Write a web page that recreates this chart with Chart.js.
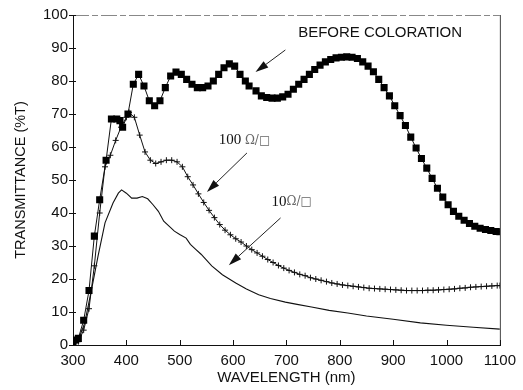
<!DOCTYPE html>
<html>
<head>
<meta charset="utf-8">
<script src="https://cdn.jsdelivr.net/npm/chart.js@4.4.1/dist/chart.umd.min.js"></script>
<style>
  html, body { margin: 0; padding: 0; background: #fff; }
  #wrap { width: 523px; height: 390px; position: relative; }
</style>
</head>
<body>
<div id="wrap"><canvas id="chart"></canvas></div>
<script>
// Transmittance spectra

// before coloration (filled squares); null = break in the trace under the arrow
const beforeWl = [300, 305, 310, 320, 330, 340, 350, 362, 372, 382, 388, 393, 403, 413, 423, 433, 443, 453, 463, 473,
  483, 493, 503, 513, 523, 533, 543, 553, 563, 573, 583, 593, 603, 613, 623, 630, 637, 643, 653, 663,
  673, 683, 693, 703, 713, 723, 733, 743, 753, 763, 773, 783, 793, 803, 813, 823, 833, 843, 853, 863,
  873, 883, 893, 903, 913, 923, 933, 943, 953, 963, 973, 983, 993, 1003, 1013, 1023, 1033, 1043, 1053, 1063,
  1073, 1083, 1093, 1100];
const beforeT = [0.3, 1.5, 2, 7.5, 16.5, 33, 44, 56, 68.5, 68.5, 68, 66, 70, 79, 82, 78.5, 74, 72.5, 74, 78,
  81.5, 82.7, 82, 80.5, 79, 78, 78, 78.5, 80, 82, 84, 85.2, 84.5, 82, 80, 78.5, null, 77, 75.5, 75,
  74.8, 74.8, 75.2, 76, 77.5, 79, 80.5, 82, 83.5, 84.8, 85.8, 86.5, 87, 87.2, 87.3, 87.2, 86.8, 85.8, 84.5, 82.8,
  80.5, 78, 75.5, 72.5, 69.5, 66.5, 63, 59.7, 56.5, 53.6, 50.5, 47.5, 44.8, 42.5, 40.5, 39, 37.8, 36.8, 36, 35.4,
  35, 34.7, 34.4, 34.3];

// 100 ohm/square (crosses)
const ohm100Wl = [300, 310, 320, 330, 340, 350, 360, 370, 380, 390, 400, 405, 415, 425, 435, 445, 455, 465, 475, 485,
  495, 505, 515, 525, 535, 545, 555, 565, 575, 585, 595, 605, 615, 625, 635, 645, 655, 665, 675, 685,
  695, 705, 715, 725, 735, 745, 755, 765, 775, 785, 795, 805, 815, 825, 835, 845, 855, 865, 875, 885,
  895, 905, 915, 925, 935, 945, 955, 965, 975, 985, 995, 1005, 1015, 1025, 1035, 1045, 1055, 1065, 1075, 1085,
  1095, 1100];
const ohm100T = [0, 1, 4.5, 11, 24, 40, 54, 57.5, 62, 66, 69, 70.5, 69, 63.6, 58.5, 56, 55, 55.5, 56, 56,
  55.5, 54, 51, 48.5, 45.8, 43.2, 40.8, 38.6, 36.5, 34.8, 33.4, 32.2, 31.2, 30, 28.9, 27.9, 26.9, 25.9, 25, 24.1,
  23.3, 22.6, 22, 21.4, 21, 20.4, 20, 19.6, 19.2, 18.8, 18.5, 18.2, 18, 17.8, 17.6, 17.4, 17.2, 17.1, 17, 16.9,
  16.8, 16.7, 16.6, 16.5, 16.5, 16.5, 16.5, 16.6, 16.6, 16.7, 16.8, 16.9, 17, 17.2, 17.3, 17.5, 17.6, 17.7, 17.8, 17.9,
  18, 18];

// 10 ohm/square (plain trace)
const ohm10Wl = [300, 310, 322, 335, 347, 360, 375, 385, 391, 400, 410, 420, 430, 440, 450, 460, 470, 480, 490, 500,
  512, 520, 530, 540, 560, 580, 605, 625, 648, 670, 698, 720, 747, 780, 815, 850, 900, 951, 1000, 1050, 1100];
const ohm10T = [0.3, 1.5, 6.7, 17, 27, 37, 43, 46, 47, 46, 44.5, 44.5, 45, 44.3, 42.5, 40.5, 37.5, 36, 34.5, 33.5,
  32.4, 30.5, 29, 27.5, 24, 21.3, 18.8, 17, 15.2, 14.1, 13, 12.3, 11.5, 10.5, 9.7, 8.8, 7.8, 6.7, 6, 5.4, 4.8];

const xTicks = [300, 400, 500, 600, 700, 800, 900, 1000, 1100];
const yTicks = [0, 10, 20, 30, 40, 50, 60, 70, 80, 90, 100];

function toPoints(wl, t) {
  return wl.map((w, i) => ({ x: w, y: t[i] }));
}

// labels with arrows, placed in data units
const notes = [
  { parts: [['BEFORE COLORATION', '15px "Liberation Sans"', '#111']], x: 722, y: 94.5, from: [698, 89.4], to: [642, 82.7] },
  { parts: [['100 ', '15px "Liberation Serif"', '#111'], ['Ω/□', '12px "DejaVu Serif"', '#666']], x: 573, y: 62, from: [626, 58.2], to: [551, 46.4] },
  { parts: [['10', '15px "Liberation Serif"', '#111'], ['Ω/□', '12px "DejaVu Serif"', '#666']], x: 672, y: 43.3, from: [689, 38.5], to: [592, 24.2] }
];

function arrow(ctx, x1, y1, x2, y2) {
  const ang = Math.atan2(y2 - y1, x2 - x1);
  const len = 13, half = 4;
  const bx = x2 - len * Math.cos(ang), by = y2 - len * Math.sin(ang);
  ctx.beginPath();
  ctx.moveTo(x1, y1);
  ctx.lineTo(bx, by);
  ctx.stroke();
  ctx.beginPath();
  ctx.moveTo(x2, y2);
  ctx.lineTo(bx + half * Math.sin(ang), by - half * Math.cos(ang));
  ctx.lineTo(bx - half * Math.sin(ang), by + half * Math.cos(ang));
  ctx.closePath();
  ctx.fill();
}

const frameAndNotes = {
  id: 'frameAndNotes',
  beforeDatasetsDraw(chart) {
    const { ctx, chartArea: a, scales: { x, y } } = chart;
    ctx.save();
    ctx.lineWidth = 1;
    // top border, faint and broken
    ctx.strokeStyle = '#888';
    ctx.setLineDash([16, 3, 6, 3]);
    ctx.beginPath();
    ctx.moveTo(a.left, a.top + 0.5);
    ctx.lineTo(a.right, a.top + 0.5);
    ctx.stroke();
    ctx.setLineDash([]);
    // right border
    ctx.strokeStyle = '#444';
    ctx.beginPath();
    ctx.moveTo(a.right + 0.5, a.top);
    ctx.lineTo(a.right + 0.5, a.bottom);
    ctx.stroke();
    // tick marks
    ctx.strokeStyle = '#111';
    ctx.beginPath();
    xTicks.forEach(v => {
      const px = Math.round(x.getPixelForValue(v)) + 0.5;
      ctx.moveTo(px, a.bottom - 5);
      ctx.lineTo(px, a.bottom + 1);
    });
    yTicks.forEach(v => {
      const py = Math.round(y.getPixelForValue(v)) + 0.5;
      ctx.moveTo(a.left - 4, py);
      ctx.lineTo(a.left + 3, py);
    });
    ctx.stroke();
    ctx.restore();
  },
  afterDatasetsDraw(chart) {
    const { ctx, scales: { x, y } } = chart;
    ctx.save();
    ctx.textBaseline = 'middle';
    ctx.textAlign = 'left';
    notes.forEach(n => {
      let px = x.getPixelForValue(n.x);
      const py = y.getPixelForValue(n.y);
      n.parts.forEach(([txt, font, color]) => {
        ctx.font = font;
        ctx.fillStyle = color;
        ctx.fillText(txt, px, py);
        px += ctx.measureText(txt).width;
      });
      ctx.strokeStyle = '#222';
      ctx.fillStyle = '#111';
      ctx.lineWidth = 1;
      arrow(ctx, x.getPixelForValue(n.from[0]), y.getPixelForValue(n.from[1]),
        x.getPixelForValue(n.to[0]), y.getPixelForValue(n.to[1]));
    });
    ctx.restore();
  }
};

const ctx = document.getElementById('chart').getContext('2d');
new Chart(ctx, {
  type: 'line',
  data: {
    datasets: [
      {
        label: 'BEFORE COLORATION',
        data: toPoints(beforeWl, beforeT),
        borderColor: '#111',
        backgroundColor: '#000',
        borderWidth: 1,
        pointStyle: 'rect',
        pointRadius: 5,
        pointBorderWidth: 0,
        spanGaps: false
      },
      {
        label: '100 Ω/□',
        data: toPoints(ohm100Wl, ohm100T),
        borderColor: '#111',
        backgroundColor: '#111',
        borderWidth: 1,
        pointStyle: 'cross',
        pointRadius: 3,
        pointBorderWidth: 1
      },
      {
        label: '10 Ω/□',
        data: toPoints(ohm10Wl, ohm10T),
        borderColor: '#111',
        borderWidth: 1.1,
        pointRadius: 0
      }
    ]
  },
  options: {
    responsive: true,
    maintainAspectRatio: false,
    animation: false,
    devicePixelRatio: 1,
    layout: { padding: { left: 0, right: 20, top: 15, bottom: 0 } },
    plugins: {
      legend: { display: false },
      tooltip: { enabled: false }
    },
    elements: { line: { tension: 0 } },
    scales: {
      x: {
        type: 'linear',
        min: 300,
        max: 1100,
        afterFit: s => { s.height = 45; },
        ticks: {
          stepSize: 100,
          color: '#111',
          padding: 7,
          maxRotation: 0,
          callback: v => String(v),
          font: { family: 'Liberation Sans', size: 15 }
        },
        grid: { display: true, drawOnChartArea: false, drawTicks: false },
        border: { display: true, color: '#111', width: 1 },
        title: {
          display: true,
          text: 'WAVELENGTH (nm)',
          color: '#111',
          font: { family: 'Liberation Sans', size: 15 },
          padding: { top: 0, bottom: 3 }
        }
      },
      y: {
        min: 0,
        max: 100,
        afterFit: s => { s.width = 73; },
        ticks: {
          stepSize: 10,
          color: '#111',
          padding: 5,
          font: { family: 'Liberation Sans', size: 15 }
        },
        grid: { display: true, drawOnChartArea: false, drawTicks: false },
        border: { display: true, color: '#111', width: 1 },
        title: {
          display: true,
          text: 'TRANSMITTANCE (%T)',
          color: '#111',
          font: { family: 'Liberation Sans', size: 14.5 },
          padding: { top: 12, bottom: 0 }
        }
      }
    }
  },
  plugins: [frameAndNotes]
});
</script>
</body>
</html>
